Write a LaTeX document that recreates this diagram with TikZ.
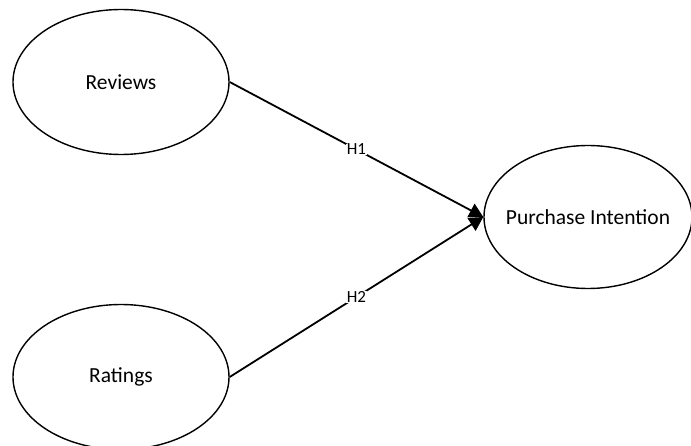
\documentclass[tikz,border=0pt]{standalone}
\usepackage{fontspec}
\setmainfont{Carlito}
\usetikzlibrary{shapes.geometric,arrows.meta}
\begin{document}
\begin{tikzpicture}[x=1pt,y=-1pt,
  construct/.style={ellipse,draw,line width=1.4pt,inner sep=0pt,
    label={[font=\fontsize{21.5}{24}\selectfont]center:#1}},
  path/.style={line width=1.8pt,-{Triangle[length=14pt,width=15pt]}},
  hyp/.style={fill=white,inner sep=0.5pt,font=\fontsize{17}{19}\selectfont}]
\useasboundingbox (0,0) rectangle (691,446);
\node[construct=Reviews,minimum width=216pt,minimum height=145pt] (rev) at (121,82) {};
\node[construct=Ratings,minimum width=216pt,minimum height=145pt] (rat) at (121,377) {};
\node[construct=Purchase Intention,minimum width=208pt,minimum height=143pt] (pi) at (588,217) {};
\draw[path] (rev.east) -- node[hyp] {H1} (pi.west);
\draw[path] (rat.east) -- node[hyp] {H2} (pi.west);
\end{tikzpicture}
\end{document}
